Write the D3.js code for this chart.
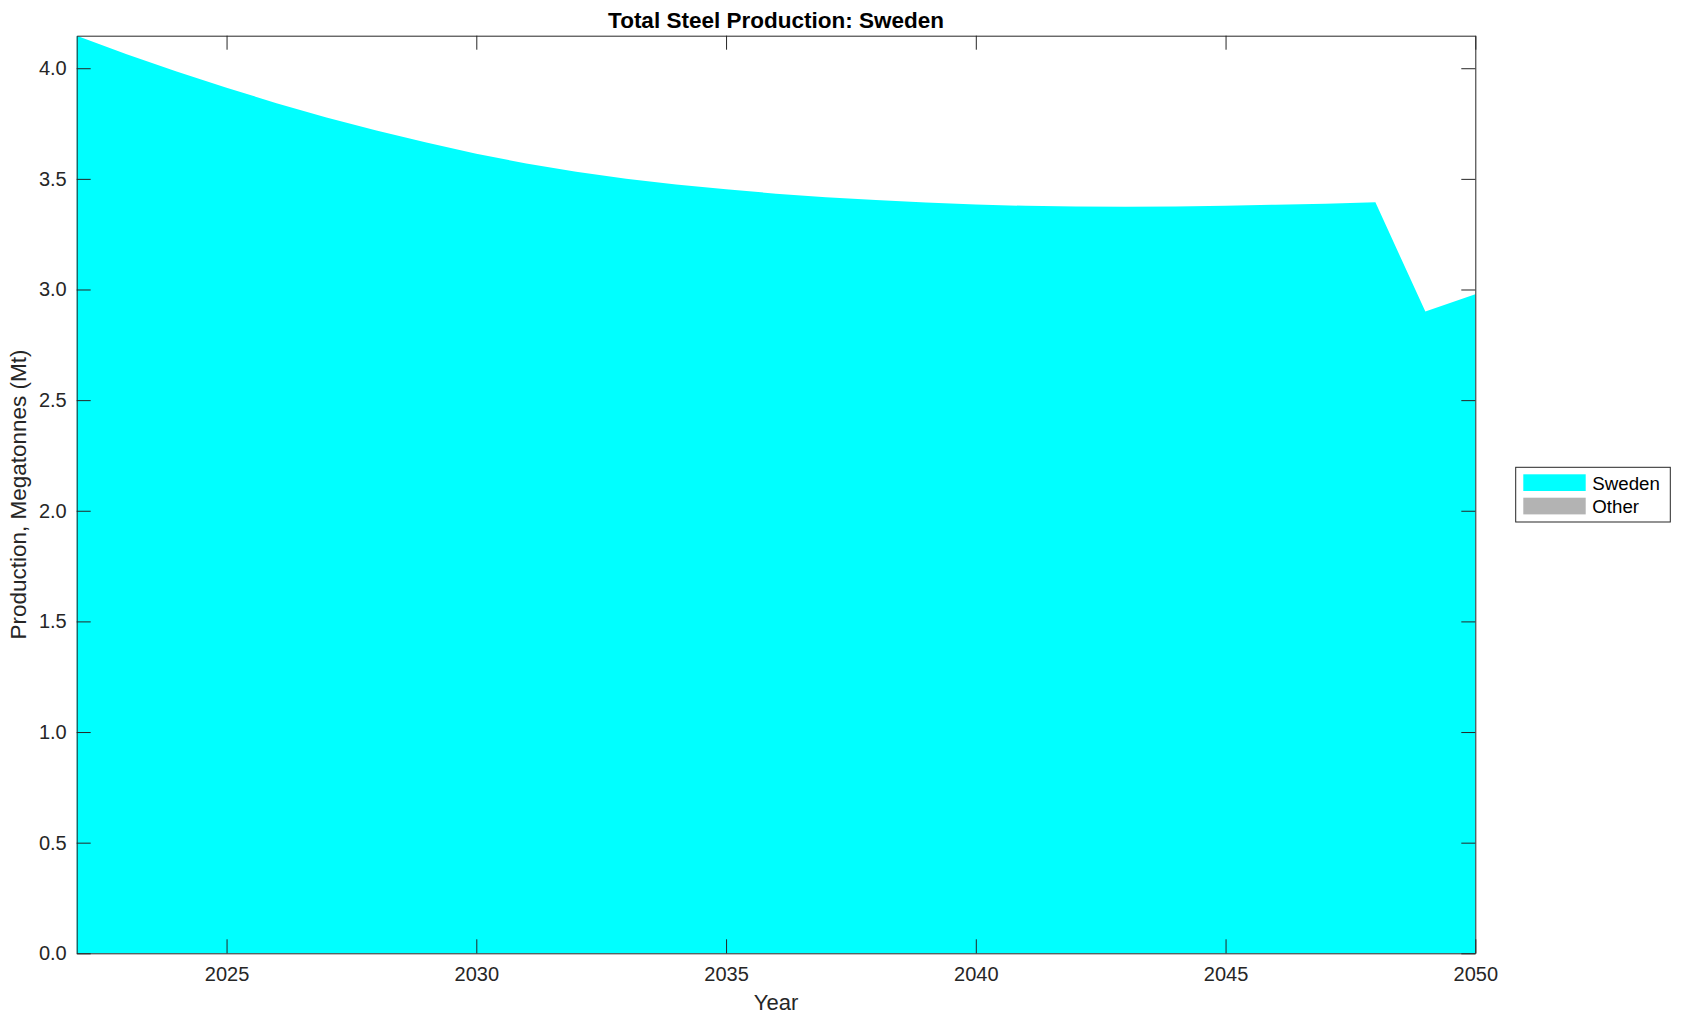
<!DOCTYPE html>
<html>
<head>
<meta charset="utf-8">
<script src="https://cdn.jsdelivr.net/npm/d3@7"></script>
<style>
  html, body { margin: 0; padding: 0; background: #fff; }
  svg { display: block; font-family: "Liberation Sans", Arial, Helvetica, sans-serif; }
</style>
</head>
<body>
<div id="chart"></div>
<script>
// data
const years = [2022, 2023, 2024, 2025, 2026, 2027, 2028, 2029, 2030, 2031, 2032, 2033, 2034, 2035,
  2036, 2037, 2038, 2039, 2040, 2041, 2042, 2043, 2044, 2045, 2046, 2047, 2048, 2049, 2050];
const sweden = [4.147, 4.063, 3.985, 3.912, 3.842, 3.777, 3.718, 3.664, 3.614, 3.569, 3.532, 3.501,
  3.475, 3.453, 3.433, 3.417, 3.404, 3.393, 3.384, 3.378, 3.375, 3.374, 3.375, 3.378, 3.383,
  3.388, 3.394, 2.900, 2.979];
const other = [0, 0, 0, 0, 0, 0, 0, 0, 0, 0, 0, 0, 0, 0, 0, 0, 0, 0, 0, 0, 0, 0, 0, 0, 0, 0, 0, 0, 0];
const seriesNames = ['Sweden', 'Other'];
const seriesColors = ['#00ffff', '#b3b3b3'];
const yTicks = [0, 0.5, 1, 1.5, 2, 2.5, 3, 3.5, 4];
const xTicks = [2025, 2030, 2035, 2040, 2045, 2050];

const W = 1681, H = 1021;
const margin = { top: 35.7, right: 205.7, bottom: 67.7, left: 76.7 }; // plot box
const w = W - margin.left - margin.right;
const h = H - margin.top - margin.bottom;
const axisColor = '#262626';
const tickLen = 14;

const table = years.map((yr, i) => ({ year: yr, Sweden: sweden[i], Other: other[i] }));
const stacked = d3.stack().keys(seriesNames)(table);
const yMax = d3.max(stacked[stacked.length - 1], d => d[1]);

const x = d3.scaleLinear().domain(d3.extent(years)).range([0, w]);
const y = d3.scaleLinear().domain([0, yMax]).range([h, 0]);

const svg = d3.select('#chart').append('svg')
  .attr('width', W).attr('height', H);

const g = svg.append('g')
  .attr('transform', `translate(${margin.left},${margin.top})`);

const area = d3.area()
  .x(d => x(d.data.year))
  .y0(d => y(d[0]))
  .y1(d => y(d[1]));

g.selectAll('path.layer')
  .data(stacked)
  .join('path')
  .attr('class', 'layer')
  .attr('fill', (d, i) => seriesColors[i])
  .attr('d', area);

// axes, ticks pointing inwards on all four sides
function styleAxis(sel) {
  sel.select('.domain').attr('stroke', axisColor).attr('stroke-width', 1);
  sel.selectAll('.tick line').attr('stroke', axisColor).attr('stroke-width', 1);
  sel.selectAll('.tick text').attr('fill', axisColor).style('font-size', '20px');
}

g.append('g')
  .attr('transform', `translate(0,${h})`)
  .call(d3.axisBottom(x).tickValues(xTicks).tickFormat(d3.format('d'))
    .tickSizeInner(-tickLen).tickSizeOuter(0).tickPadding(13.5))
  .call(styleAxis);

g.append('g')
  .call(d3.axisTop(x).tickValues(xTicks).tickFormat('')
    .tickSizeInner(-tickLen).tickSizeOuter(0))
  .call(styleAxis);

g.append('g')
  .call(d3.axisLeft(y).tickValues(yTicks).tickFormat(d3.format('.1f'))
    .tickSizeInner(-tickLen).tickSizeOuter(0).tickPadding(10))
  .call(styleAxis);

g.append('g')
  .attr('transform', `translate(${w},0)`)
  .call(d3.axisRight(y).tickValues(yTicks).tickFormat('')
    .tickSizeInner(-tickLen).tickSizeOuter(0))
  .call(styleAxis);

// title and axis labels
svg.append('text')
  .attr('x', margin.left + w / 2).attr('y', 28.3)
  .attr('text-anchor', 'middle')
  .style('font-size', '22.5px').style('font-weight', 'bold')
  .attr('fill', '#000')
  .text('Total Steel Production: Sweden');

svg.append('text')
  .attr('x', margin.left + w / 2).attr('y', 1010)
  .attr('text-anchor', 'middle')
  .style('font-size', '22px')
  .attr('fill', axisColor)
  .text('Year');

svg.append('text')
  .attr('transform', `translate(26,${margin.top + h / 2}) rotate(-90)`)
  .attr('text-anchor', 'middle')
  .style('font-size', '22.5px')
  .attr('fill', axisColor)
  .text('Production, Megatonnes (Mt)');

// legend
const legend = svg.append('g').attr('transform', 'translate(1515.7,467.3)');
legend.append('rect')
  .attr('width', 154.6).attr('height', 54.7)
  .attr('fill', '#fff').attr('stroke', axisColor).attr('stroke-width', 1);

const item = legend.selectAll('g.item')
  .data(seriesNames)
  .join('g')
  .attr('class', 'item')
  .attr('transform', (d, i) => `translate(7.6,${7 + i * 23.4})`);

item.append('rect')
  .attr('width', 62.4).attr('height', 16.7)
  .attr('fill', (d, i) => seriesColors[i]);

item.append('text')
  .attr('x', 69).attr('y', 15.7)
  .style('font-size', '18.7px')
  .attr('fill', '#000')
  .text(d => d);
</script>
</body>
</html>
